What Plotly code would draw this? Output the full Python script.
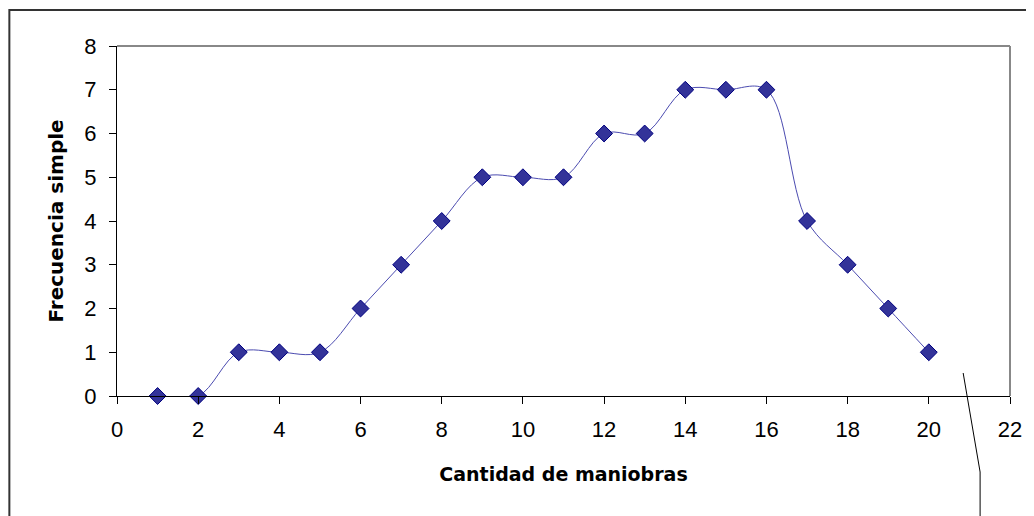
import plotly.graph_objects as go

maniobras = list(range(1, 21))
frecuencia = [0, 0, 1, 1, 1, 2, 3, 4, 5, 5, 5, 6, 6, 7, 7, 7, 4, 3, 2, 1]

W, H = 1034, 516
OFF = 8  # page body margin
L, R, T, B = 117, 1013, 46, 396


def px(x):
    return (x - L) / (R - L)


def py(y):
    return (B - y) / (B - T)


fig = go.Figure()
fig.add_trace(go.Scatter(
    x=maniobras,
    y=frecuencia,
    mode="lines+markers",
    line=dict(shape="spline", smoothing=1.0, color="#4b4bb0", width=1),
    marker=dict(symbol="diamond", size=13, color="#333399",
                line=dict(color="#000080", width=1)),
    showlegend=False,
    cliponaxis=False,
))

axis_font = dict(family="Liberation Sans", size=22, color="black")
title_font = dict(family="Comic Sans MS, DejaVu Sans", size=19, color="black")

fig.update_layout(
    width=W - OFF, height=H - OFF,
    margin=dict(l=L - OFF, r=W - R, t=T - OFF, b=H - B),
    paper_bgcolor="white",
    plot_bgcolor="white",
    xaxis=dict(
        range=[0, 22], tick0=0, dtick=2, showgrid=False, zeroline=False,
        showline=True, linecolor="black", linewidth=1,
        ticks="outside", ticklen=7, tickcolor="black",
        tickfont=axis_font, ticklabelstandoff=7,
        title=dict(text="<b>Cantidad de maniobras</b>", font=title_font, standoff=26),
    ),
    yaxis=dict(
        range=[0, 8], dtick=1, showgrid=False, zeroline=False,
        showline=True, linecolor="black", linewidth=1,
        ticks="outside", ticklen=7, tickcolor="black",
        tickfont=axis_font, ticklabelstandoff=8,
        title=dict(text="<b>Frecuencia simple</b>",
                   font=dict(family="Comic Sans MS, DejaVu Sans", size=20, color="black"),
                   standoff=15),
    ),
    shapes=[
        # plot area border (top/right gray)
        dict(type="line", xref="paper", yref="paper", x0=0, y0=1, x1=1, y1=1,
             line=dict(color="#888888", width=2)),
        dict(type="line", xref="paper", yref="paper", x0=1, y0=0, x1=1, y1=1,
             line=dict(color="#888888", width=2)),
        # outer chart border
        dict(type="path", xref="paper", yref="paper",
             path=f"M {px(9)},{py(H + 5)} L {px(9)},{py(10)} L {px(W + 5)},{py(10)}",
             line=dict(color="#333333", width=2)),
        # stray leader line
        dict(type="path", xref="paper", yref="paper",
             path=f"M {px(966)},{py(373)} L {px(983)},{py(472)} L {px(983)},{py(H + 5)}",
             line=dict(color="black", width=1)),
    ],
)

fig.write_html("out.html")
